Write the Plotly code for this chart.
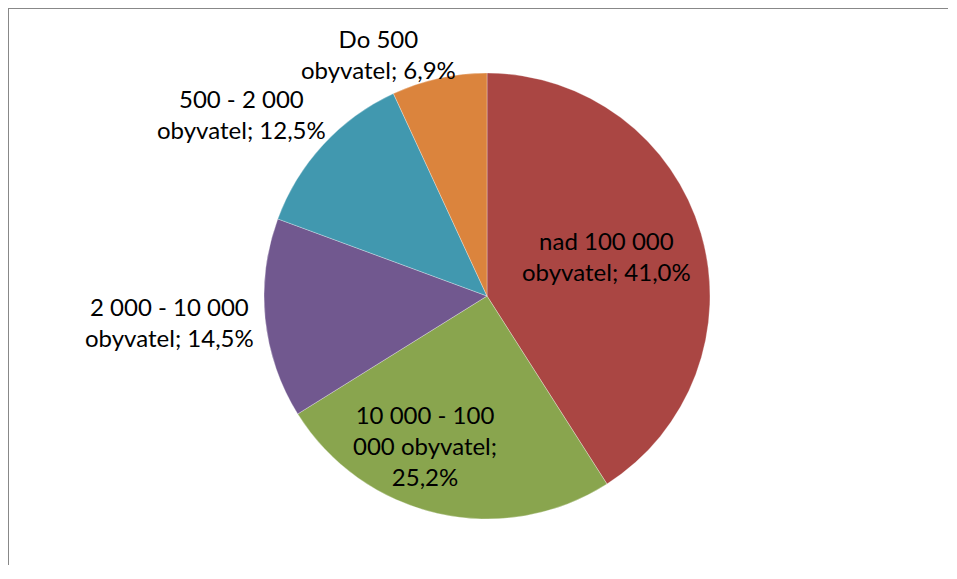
import math
import plotly.graph_objects as go

categories = ["nad 100 000 obyvatel", "10 000 - 100 000 obyvatel", "2 000 - 10 000 obyvatel",
              "500 - 2 000 obyvatel", "Do 500 obyvatel"]
values = [41.0, 25.2, 14.5, 12.5, 6.9]
label_texts = ["nad 100 000<br>obyvatel; 41,0%",
               "10 000 - 100<br>000 obyvatel;<br>25,2%",
               "2 000 - 10 000<br>obyvatel; 14,5%",
               "500 - 2 000<br>obyvatel; 12,5%",
               "Do 500<br>obyvatel; 6,9%"]
colors = ["#AA4643", "#89A54E", "#71588F", "#4198AF", "#DB843D"]

# label placement style: (radius factor, angle nudge in degrees)
label_style = [(0.565, -2.3), (0.726, 9.9), (1.43, 1.1), (1.37, -6.1), (1.19, -11.7)]

OFF = 8  # page body margin
W, H = 940, 557
CX, CY, R = 487 - OFF, 296 - OFF, 223

fig = go.Figure(go.Pie(
    labels=categories, values=values, sort=False, direction="clockwise", rotation=0,
    marker=dict(colors=colors, line=dict(color="rgba(255,255,255,0.6)", width=0.5)),
    textinfo="none", hoverinfo="label+percent", showlegend=False,
    domain=dict(x=[(CX - R) / W, (CX + R) / W], y=[1 - (CY + R) / H, 1 - (CY - R) / H]),
))

total = sum(values)
cum = 0.0
annotations = []
for v, txt, (f, d) in zip(values, label_texts, label_style):
    mid = (cum + v / 2) / total * 360 + d
    cum += v
    a = math.radians(mid)
    px = CX + f * R * math.sin(a)
    py = CY - f * R * math.cos(a)
    annotations.append(dict(x=px / W, y=1 - py / H, xref="paper", yref="paper", text=txt,
                            showarrow=False, align="center", xanchor="center", yanchor="middle",
                            font=dict(family="Lato", size=24, color="#000000")))

fig.update_layout(
    width=W, height=H, margin=dict(l=0, r=0, t=0, b=0),
    paper_bgcolor="white", plot_bgcolor="white",
    annotations=annotations,
    shapes=[
        dict(type="line", xref="paper", yref="paper", x0=0, x1=1, y0=1, y1=1,
             line=dict(color="#888888", width=2)),
        dict(type="line", xref="paper", yref="paper", x0=0, x1=0, y0=0, y1=1,
             line=dict(color="#888888", width=2)),
    ],
)

fig.write_html("out.html")
